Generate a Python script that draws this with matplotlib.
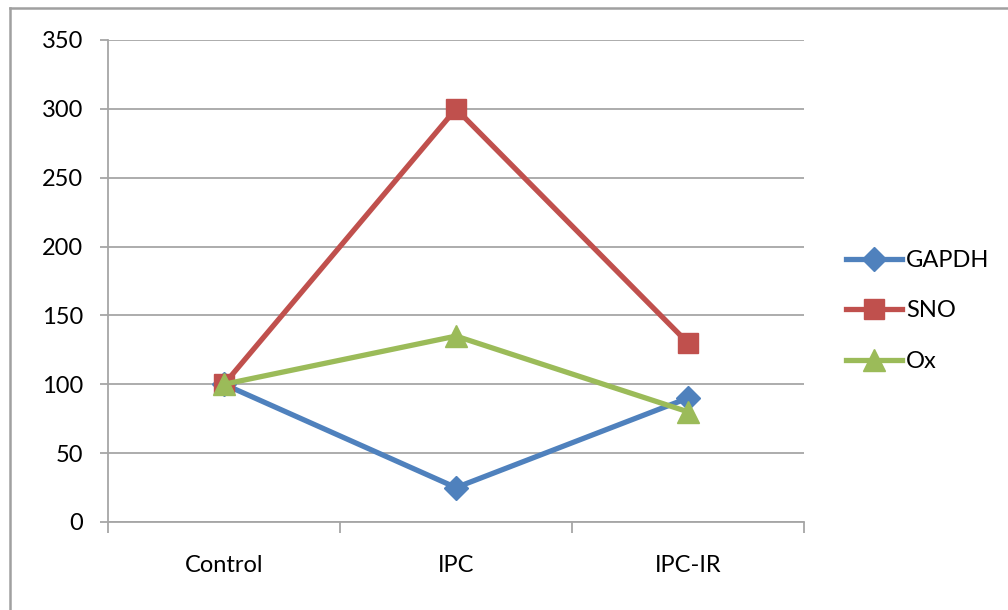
import matplotlib.pyplot as plt
from matplotlib.lines import Line2D

plt.rcParams['font.family'] = ['Lato', 'DejaVu Sans']

categories = ['Control', 'IPC', 'IPC-IR']
gapdh = [100, 25, 90]
sno = [100, 300, 130]
ox = [100, 135, 80]

grid_color = '#a6a6a6'

fig = plt.figure(figsize=(10.08, 6.10), dpi=100)
ax = fig.add_axes([108 / 1008, 1 - 522 / 610, (804 - 108) / 1008, (522 - 40) / 610])

x = range(len(categories))
ax.plot(x, gapdh, color='#4F81BD', lw=3.8, marker='D', ms=12, label='GAPDH', zorder=3)
ax.plot(x, sno, color='#C0504D', lw=3.8, marker='s', ms=14, label='SNO', zorder=3)
ax.plot(x, ox, color='#9BBB59', lw=3.8, marker='^', ms=16, label='Ox', zorder=4)

ax.set_xlim(-0.5, 2.5)
ax.set_ylim(0, 350)
ax.set_yticks(range(0, 351, 50))
ax.set_xticks(list(x))
ax.set_xticklabels(categories)
ax.set_xticks([-0.5, 0.5, 1.5, 2.5], minor=True)
ax.tick_params(axis='x', which='major', length=0, pad=24, labelsize=17)
ax.tick_params(axis='x', which='minor', length=8, width=1.3, color=grid_color, direction='out')
ax.tick_params(axis='y', length=6, width=1.3, color=grid_color, pad=12, labelsize=17)
ax.yaxis.grid(True, color=grid_color, lw=1.3)
ax.set_axisbelow(True)
for s in ['top', 'right']:
    ax.spines[s].set_visible(False)
for s in ['left', 'bottom']:
    ax.spines[s].set_color(grid_color)
    ax.spines[s].set_linewidth(1.3)

ax.legend(loc='center left', bbox_to_anchor=(1.03, 0.438), frameon=False, fontsize=17,
          handlelength=2.35, handletextpad=0.2, labelspacing=1.25)

# outer chart border (left and top)
fig.add_artist(Line2D([10 / 1008, 10 / 1008], [0, 1 - 8 / 610], color='#a0a0a0', lw=1.8))
fig.add_artist(Line2D([10 / 1008, 1], [1 - 8 / 610, 1 - 8 / 610], color='#a0a0a0', lw=1.8))

fig.savefig('out.png', dpi=100)
